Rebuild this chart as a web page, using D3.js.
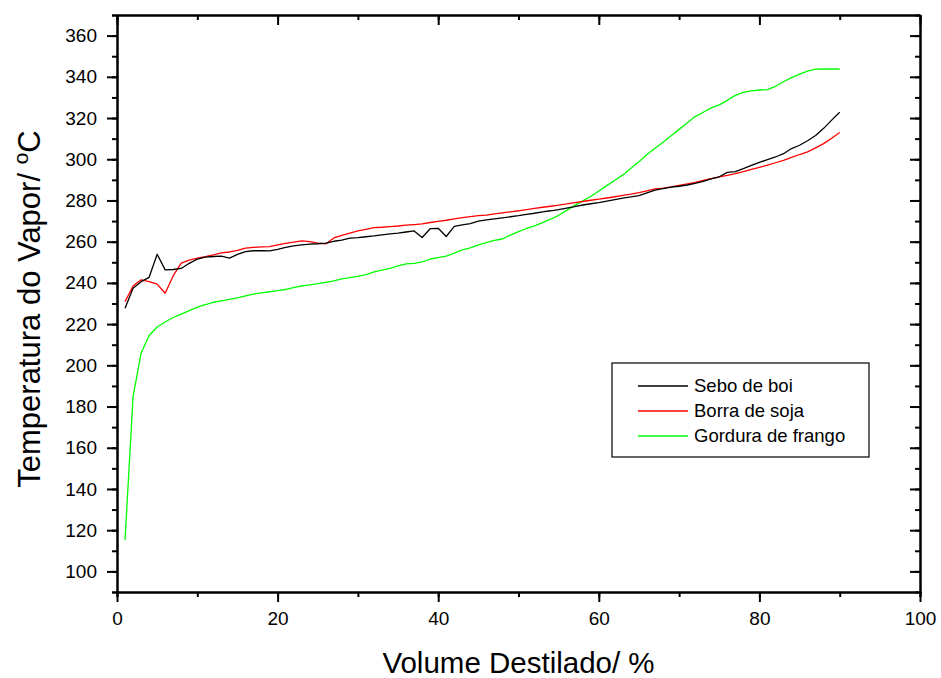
<!DOCTYPE html>
<html><head><meta charset="utf-8">
<script src="https://cdn.jsdelivr.net/npm/d3@7"></script>
<style>body{margin:0;background:#fff}svg{display:block}text{font-family:Arial,"Liberation Sans",sans-serif}</style>
</head><body>
<svg id="chart" width="941" height="678"></svg>
<script>
const volume = [1,2,3,4,5,6,7,8,9,10,11,12,13,14,15,16,17,18,19,20,21,22,23,24,25,26,27,28,29,30,31,32,33,34,35,36,37,38,39,40,41,42,43,44,45,46,47,48,49,50,51,52,53,54,55,56,57,58,59,60,61,62,63,64,65,66,67,68,69,70,71,72,73,74,75,76,77,78,79,80,81,82,83,84,85,86,87,88,89,90];
const seboDeBoi = [227.7,237.4,240.6,242.7,253.9,246.3,246.5,247.0,249.5,251.5,252.5,252.8,253.0,252.0,253.8,255.2,255.6,255.7,255.5,256.3,257.2,258.0,258.4,258.8,259.0,259.3,260.2,260.8,261.7,262.0,262.4,262.8,263.3,263.8,264.2,264.7,265.2,262.0,266.3,266.5,262.5,267.4,268.2,268.8,270.0,270.6,271.1,271.6,272.1,272.6,273.2,273.8,274.5,275.0,275.6,276.3,277.0,277.8,278.4,279.0,279.7,280.4,281.1,281.7,282.4,283.7,285.0,285.7,286.5,286.9,287.5,288.3,289.3,290.5,291.5,293.6,294.0,295.5,297.0,298.5,299.8,301.1,302.7,305.2,306.8,309.0,311.5,315.0,319.0,322.8];
const borraDeSoja = [230.9,238.5,241.5,240.6,239.4,235.0,243.5,249.6,251.0,252.0,252.7,253.6,254.6,255.0,255.8,256.9,257.2,257.5,257.6,258.4,259.2,259.8,260.4,260.0,259.3,258.9,261.8,263.0,264.2,265.2,266.0,266.8,267.0,267.3,267.6,268.0,268.3,268.6,269.3,269.9,270.4,271.1,271.7,272.2,272.6,272.9,273.5,274.0,274.5,275.0,275.6,276.2,276.7,277.2,277.7,278.3,279.0,279.5,280.1,280.6,281.2,281.8,282.5,283.1,283.8,284.7,285.6,286.0,286.6,287.3,288.0,288.8,289.7,290.6,291.5,292.2,293.0,294.0,295.1,296.1,297.1,298.3,299.5,300.9,302.3,303.6,305.5,307.6,310.2,313.0];
const gorduraDeFrango = [115.3,184.8,205.9,214.5,218.6,221.0,223.2,224.8,226.5,228.2,229.5,230.6,231.3,232.0,232.7,233.7,234.6,235.2,235.7,236.2,236.8,237.7,238.5,239.0,239.6,240.2,241.0,242.0,242.6,243.2,244.0,245.3,246.2,247.0,248.2,249.2,249.5,250.2,251.6,252.3,253.0,254.4,256.0,257.0,258.4,259.5,260.6,261.3,263.2,264.9,266.4,267.7,269.2,270.9,272.8,275.2,277.6,279.8,281.9,284.6,287.2,289.8,292.4,295.6,298.8,302.3,305.3,308.3,311.4,314.5,317.6,320.7,322.8,324.9,326.4,328.6,331.0,332.4,333.2,333.6,333.8,335.4,337.6,339.6,341.3,342.8,343.7,343.8,343.8,343.8];
const seriesNames = ["Sebo de boi","Borra de soja","Gordura de frango"];
const seriesColors = ["#000000","#ff0000","#00ff00"];
const xTicks = [0,20,40,60,80,100];
const yTicks = [100,120,140,160,180,200,220,240,260,280,300,320,340,360];
const xTitle = "Volume Destilado/ %";
const yTitleMain = "Temperatura do Vapor/ ";
const yTitleSup = "o";
const yTitleEnd = "C";

const svg = d3.select("#chart");
const L = 117, R = 920, T = 15, B = 592;
const x = d3.scaleLinear().domain([0,100]).range([L,R]);
const y = d3.scaleLinear().domain([90,370]).range([B,T]);

const xMinor = d3.range(0,101,10);
const yMinor = d3.range(90,371,10);

function styleAxis(g){
  g.select(".domain").attr("stroke","#000").attr("stroke-width",2);
  g.selectAll(".tick line").attr("stroke","#000").attr("stroke-width",2);
}
const axB = svg.append("g").attr("transform",`translate(0,${B})`)
  .call(d3.axisBottom(x).tickValues(xMinor).tickSize(5).tickFormat(""));
styleAxis(axB);
const axB2 = svg.append("g").attr("transform",`translate(0,${B})`)
  .call(d3.axisBottom(x).tickValues(xTicks).tickSize(10).tickSizeOuter(0).tickPadding(10).tickFormat(d3.format("d")));
styleAxis(axB2);
axB2.selectAll("text").attr("font-size",19).attr("fill","#000").attr("font-family","Arial, Liberation Sans, sans-serif");

const axL = svg.append("g").attr("transform",`translate(${L},0)`)
  .call(d3.axisLeft(y).tickValues(yMinor).tickSize(5).tickFormat(""));
styleAxis(axL);
const axL2 = svg.append("g").attr("transform",`translate(${L},0)`)
  .call(d3.axisLeft(y).tickValues(yTicks).tickSize(10).tickSizeOuter(0).tickPadding(10).tickFormat(d3.format("d")));
styleAxis(axL2);
axL2.selectAll("text").attr("font-size",19).attr("fill","#000").attr("font-family","Arial, Liberation Sans, sans-serif");

const axT = svg.append("g").attr("transform",`translate(0,${T})`)
  .call(d3.axisTop(x).tickValues(xMinor).tickSize(-5).tickSizeOuter(0).tickFormat(""));
styleAxis(axT);
const axT2 = svg.append("g").attr("transform",`translate(0,${T})`)
  .call(d3.axisTop(x).tickValues(xTicks).tickSize(-10).tickSizeOuter(0).tickFormat(""));
styleAxis(axT2);
const axR = svg.append("g").attr("transform",`translate(${R},0)`)
  .call(d3.axisRight(y).tickValues(yMinor).tickSize(-5).tickSizeOuter(0).tickFormat(""));
styleAxis(axR);
const axR2 = svg.append("g").attr("transform",`translate(${R},0)`)
  .call(d3.axisRight(y).tickValues(yTicks).tickSize(-10).tickSizeOuter(0).tickFormat(""));
styleAxis(axR2);

const seriesData = [seboDeBoi, borraDeSoja, gorduraDeFrango];
const line = d3.line().x(d=>x(d[0])).y(d=>y(d[1]));
[2,1,0].forEach(i=>{
  svg.append("path")
    .datum(volume.map((v,j)=>[v, seriesData[i][j]]))
    .attr("fill","none").attr("stroke",seriesColors[i]).attr("stroke-width",1.3)
    .attr("stroke-linejoin","round").attr("d",line);
});

const lg = svg.append("g");
lg.append("rect").attr("x",612).attr("y",363).attr("width",257).attr("height",94)
  .attr("fill","#fff").attr("stroke","#000").attr("stroke-width",1.2);
seriesNames.forEach((n,i)=>{
  const yy = 386 + i*25;
  lg.append("line").attr("x1",638).attr("x2",688).attr("y1",yy).attr("y2",yy)
    .attr("stroke",seriesColors[i]).attr("stroke-width",1.3);
  lg.append("text").attr("x",694).attr("y",yy).attr("dy","0.35em")
    .attr("font-size",18.5).attr("fill","#000").text(n);
});

svg.append("text").attr("x",(L+R)/2).attr("y",673).attr("text-anchor","middle")
  .attr("font-size",29.5).attr("fill","#000").text(xTitle);
const yt = svg.append("text").attr("transform","translate(40,309) rotate(-90)")
  .attr("text-anchor","middle").attr("font-size",31).attr("fill","#000");
yt.append("tspan").text(yTitleMain);
yt.append("tspan").attr("font-size",21).attr("dy",-12).text(yTitleSup);
yt.append("tspan").attr("dy",12).text(yTitleEnd);
</script>
</body></html>
